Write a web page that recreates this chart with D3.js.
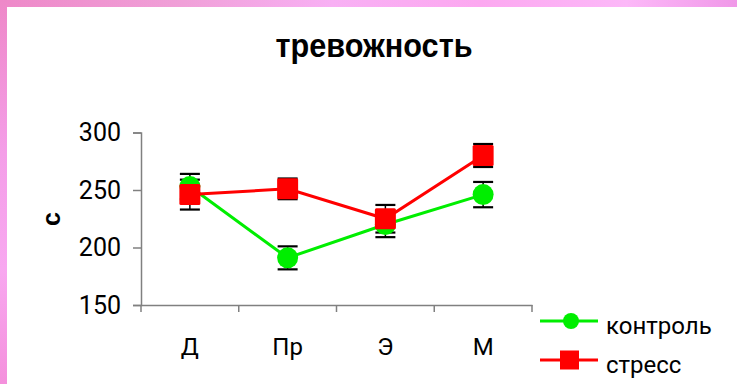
<!DOCTYPE html>
<html><head><meta charset="utf-8">
<script src="https://cdn.jsdelivr.net/npm/d3@7"></script>
<style>body{margin:0;background:#fff;} svg{display:block}</style>
</head><body><svg id="c" width="737" height="384"></svg>
<script>
const categories = ["Д", "Пр", "Э", "М"];
const controlValues = [253, 191, 220, 246];
const controlErrors = [11, 10, 11, 11];
const stressValues = [246, 251, 225, 280];
const stressErrors = [13, 9, 12, 10];
const yTicks = [150, 200, 250, 300];
const seriesNames = ["контроль", "стресс"];
const titleText = "тревожность";
const yLabel = "с";

const series = [
  {name: seriesNames[0], values: controlValues, errors: controlErrors, color: "#00ee00", shape: "circle"},
  {name: seriesNames[1], values: stressValues, errors: stressErrors, color: "#ff0000", shape: "square"}
];

const svg = d3.select("#c");
const defs = svg.append("defs");
const g1 = defs.append("linearGradient").attr("id", "pinkTop").attr("x1", 0).attr("x2", 1).attr("y1", 0).attr("y2", 0);
[["0%", "#ee88c8"], ["25%", "#f0a0d8"], ["45%", "#f8b0f4"], ["65%", "#fca8f0"], ["85%", "#fcb8f8"], ["100%", "#f098e8"]]
  .forEach(([o, c]) => g1.append("stop").attr("offset", o).attr("stop-color", c));
const g2 = defs.append("linearGradient").attr("id", "pinkLeft").attr("x1", 0).attr("x2", 0).attr("y1", 0).attr("y2", 1);
[["0%", "#ee88c8"], ["40%", "#f49ee8"], ["70%", "#f8a8f0"], ["100%", "#f490dc"]]
  .forEach(([o, c]) => g2.append("stop").attr("offset", o).attr("stop-color", c));
svg.append("rect").attr("x", 0).attr("y", 0).attr("width", 737).attr("height", 384).attr("fill", "#fff");
svg.append("rect").attr("x", 0).attr("y", 0).attr("width", 737).attr("height", 7).attr("fill", "url(#pinkTop)");
svg.append("rect").attr("x", 0).attr("y", 0).attr("width", 7).attr("height", 384).attr("fill", "url(#pinkLeft)");

const x = d3.scaleBand().domain(categories).range([141, 532]).paddingInner(0).paddingOuter(0);
const y = d3.scaleLinear().domain([150, 300]).range([305, 132.5]);
const cx = d => x(d) + x.bandwidth() / 2;

// title
svg.append("text").attr("x", 374).attr("y", 57).attr("text-anchor", "middle")
  .attr("font-family", "Liberation Sans, Arial, sans-serif").attr("font-weight", "bold")
  .attr("font-size", 33).attr("textLength", 197).attr("lengthAdjust", "spacingAndGlyphs")
  .text(titleText);

// y axis
const yAxis = svg.append("g").attr("transform", "translate(141,0)")
  .call(d3.axisLeft(y).tickValues(yTicks).tickSize(8).tickPadding(12).tickFormat(d3.format("d")));
yAxis.select(".domain").attr("stroke", "#808080").attr("stroke-width", 1.5);
yAxis.selectAll(".tick line").attr("stroke", "#808080").attr("stroke-width", 1.5);
yAxis.selectAll(".tick text").attr("font-family", "Roboto, sans-serif").attr("font-size", 25).attr("fill", "#000");

// x axis
const xAxis = svg.append("g").attr("transform", "translate(0,305)")
  .call(d3.axisBottom(x).tickSize(0).tickPadding(33));
xAxis.select(".domain").attr("stroke", "#808080").attr("stroke-width", 1.5);
xAxis.selectAll(".tick text").attr("font-family", "Roboto, sans-serif").attr("font-size", 24).attr("fill", "#000").attr("dy", "0.71em");
const bounds = categories.map(c => x(c)).concat([x.range()[1]]);
xAxis.selectAll(".bnd").data(bounds).join("line").attr("class", "bnd")
  .attr("x1", d => d).attr("x2", d => d).attr("y1", 0).attr("y2", 7)
  .attr("stroke", "#808080").attr("stroke-width", 1.5);

// y label
svg.append("text").attr("transform", "translate(60,219) rotate(-90)").attr("text-anchor", "middle")
  .attr("font-family", "Liberation Sans, Arial, sans-serif").attr("font-weight", "bold").attr("font-size", 25)
  .text(yLabel);

const line = d3.line().x((d, i) => cx(categories[i])).y(d => y(d));

series.forEach(s => {
  const gs = svg.append("g");
  const eb = gs.selectAll(".eb").data(s.values.map((v, i) => ({v, e: s.errors[i], c: categories[i]}))).join("g");
  eb.append("line").attr("x1", d => cx(d.c)).attr("x2", d => cx(d.c)).attr("y1", d => y(d.v + d.e)).attr("y2", d => y(d.v - d.e))
    .attr("stroke", "#000").attr("stroke-width", 1.5);
  [1, -1].forEach(sg => {
    eb.append("line").attr("x1", d => cx(d.c) - 10).attr("x2", d => cx(d.c) + 10)
      .attr("y1", d => y(d.v + sg * d.e)).attr("y2", d => y(d.v + sg * d.e))
      .attr("stroke", "#000").attr("stroke-width", 2.2);
  });
});
series.forEach(s => {
  const gs = svg.append("g");
  gs.append("path").attr("d", line(s.values)).attr("fill", "none").attr("stroke", s.color).attr("stroke-width", 3);
  if (s.shape === "circle") {
    gs.selectAll("circle").data(s.values).join("circle")
      .attr("cx", (d, i) => cx(categories[i])).attr("cy", d => y(d)).attr("r", 10.5).attr("fill", s.color);
  } else {
    gs.selectAll("rect").data(s.values).join("rect")
      .attr("x", (d, i) => cx(categories[i]) - 10.5).attr("y", d => y(d) - 10.5)
      .attr("width", 21).attr("height", 21).attr("rx", 1.5).attr("fill", s.color);
  }
});

// legend
const legendY = [321, 360];
series.forEach((s, i) => {
  const lg = svg.append("g").attr("transform", `translate(0,${legendY[i]})`);
  lg.append("line").attr("x1", 540).attr("x2", 598).attr("y1", 0).attr("y2", 0).attr("stroke", s.color).attr("stroke-width", 3);
  if (s.shape === "circle") lg.append("circle").attr("cx", 571).attr("cy", 0).attr("r", 8).attr("fill", s.color);
  else lg.append("rect").attr("x", 560).attr("y", -9.5).attr("width", 19).attr("height", 19).attr("fill", s.color);
  lg.append("text").attr("x", 606).attr("y", 12.5).attr("font-family", "Roboto, sans-serif").attr("font-size", 24).attr("fill", "#000").text(s.name);
});
</script></body></html>
